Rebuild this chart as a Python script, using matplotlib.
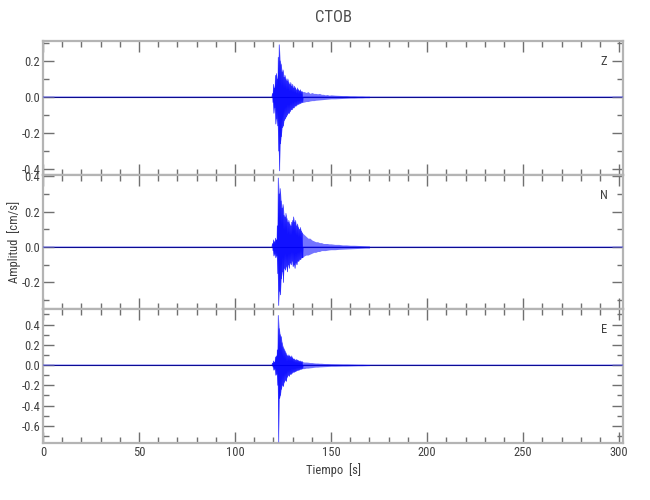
import numpy as np
import matplotlib
matplotlib.use("Agg")
import matplotlib.pyplot as plt
from matplotlib.ticker import MultipleLocator
from matplotlib import font_manager

names = {f.name for f in font_manager.fontManager.ttflist}
narrow = [n for n in ['Liberation Sans Narrow', 'DejaVu Sans Condensed', 'Roboto Condensed'] if n in names]
plt.rcParams['font.family'] = narrow + ['DejaVu Sans']
plt.rcParams['font.stretch'] = 'condensed'
plt.rcParams['axes.unicode_minus'] = False

# envelope sample times (s): 0.5 s steps near the onset, then coarser
t_env = [119.5, 120, 120.5, 121, 121.5, 122, 122.5, 123, 123.5, 124, 124.5, 125,
         125.5, 126, 126.5, 127, 127.5, 128, 128.5, 129, 129.5, 130, 130.5, 131,
         131.5, 132, 132.5, 133, 133.5, 134, 134.5, 135,
         136, 137, 138, 139, 140, 141, 142, 143, 144, 145, 146, 147, 148, 149, 150,
         152, 154, 156, 158, 160, 162, 164, 166, 168, 170]

# peak values (cm/s)
z_up = [0.02, 0.07, 0.05, 0.12, 0.13, 0.10, 0.22, 0.29, 0.20, 0.18, 0.14, 0.15,
        0.11, 0.12, 0.10, 0.09, 0.10, 0.08, 0.07, 0.08, 0.06, 0.07, 0.05, 0.06,
        0.05, 0.04, 0.05, 0.04, 0.035, 0.04, 0.03, 0.03,
        0.03, 0.025, 0.03, 0.02, 0.025, 0.02, 0.02, 0.018, 0.02, 0.015, 0.015, 0.012, 0.014, 0.01, 0.012,
        0.01, 0.009, 0.008, 0.008, 0.006, 0.006, 0.005, 0.005, 0.004, 0.004]
z_lo = [-0.03, -0.09, -0.06, -0.15, -0.12, -0.16, -0.30, -0.41, -0.26, -0.22, -0.17, -0.16,
        -0.13, -0.12, -0.11, -0.10, -0.09, -0.09, -0.08, -0.07, -0.07, -0.06, -0.06, -0.05,
        -0.05, -0.045, -0.04, -0.04, -0.035, -0.035, -0.03, -0.03,
        -0.028, -0.025, -0.025, -0.022, -0.02, -0.02, -0.018, -0.017, -0.016, -0.015, -0.014, -0.013, -0.012, -0.011, -0.01,
        -0.01, -0.009, -0.008, -0.007, -0.006, -0.006, -0.005, -0.005, -0.004, -0.004]

n_up = [0.02, 0.04, 0.03, 0.05, 0.04, 0.12, 0.39, 0.30, 0.33, 0.26, 0.22, 0.24,
        0.18, 0.17, 0.19, 0.16, 0.14, 0.15, 0.13, 0.12, 0.14, 0.15, 0.17, 0.14,
        0.15, 0.12, 0.13, 0.11, 0.10, 0.11, 0.09, 0.08,
        0.07, 0.06, 0.05, 0.05, 0.04, 0.035, 0.03, 0.03, 0.025, 0.025, 0.02, 0.02, 0.02, 0.018, 0.018,
        0.015, 0.015, 0.012, 0.012, 0.01, 0.01, 0.009, 0.008, 0.007, 0.006]
n_lo = [-0.02, -0.05, -0.04, -0.06, -0.05, -0.15, -0.33, -0.25, -0.27, -0.18, -0.14, -0.20,
        -0.12, -0.13, -0.11, -0.14, -0.10, -0.12, -0.09, -0.10, -0.08, -0.11, -0.10, -0.12,
        -0.09, -0.10, -0.08, -0.08, -0.07, -0.07, -0.06, -0.06,
        -0.05, -0.045, -0.045, -0.04, -0.035, -0.03, -0.03, -0.025, -0.025, -0.02, -0.02, -0.02, -0.018, -0.016, -0.015,
        -0.015, -0.013, -0.012, -0.011, -0.01, -0.009, -0.008, -0.007, -0.006, -0.006]

e_up = [0.02, 0.04, 0.03, 0.08, 0.09, 0.15, 0.49, 0.36, 0.30, 0.28, 0.22, 0.18,
        0.16, 0.14, 0.12, 0.10, 0.09, 0.10, 0.09, 0.08, 0.09, 0.07, 0.06, 0.06,
        0.05, 0.055, 0.05, 0.045, 0.04, 0.04, 0.035, 0.035,
        0.03, 0.03, 0.028, 0.025, 0.025, 0.022, 0.02, 0.02, 0.018, 0.018, 0.016, 0.015, 0.015, 0.014, 0.013,
        0.012, 0.011, 0.01, 0.01, 0.009, 0.008, 0.007, 0.007, 0.006, 0.005]
e_lo = [-0.02, -0.05, -0.04, -0.10, -0.09, -0.20, -0.76, -0.33, -0.30, -0.24, -0.20, -0.21,
        -0.17, -0.15, -0.16, -0.12, -0.10, -0.11, -0.09, -0.09, -0.08, -0.07, -0.07, -0.065,
        -0.06, -0.055, -0.05, -0.05, -0.045, -0.04, -0.04, -0.035,
        -0.035, -0.03, -0.03, -0.027, -0.025, -0.022, -0.02, -0.02, -0.018, -0.017, -0.016, -0.015, -0.014, -0.013, -0.012,
        -0.012, -0.011, -0.01, -0.01, -0.009, -0.008, -0.007, -0.007, -0.006, -0.005]

components = ['Z', 'N', 'E']
envelopes = [(z_up, z_lo), (n_up, n_lo), (e_up, e_lo)]
ylims = [(-0.433, 0.311), (-0.35, 0.407), (-0.77, 0.554)]
yticks = [[-0.4, -0.2, 0.0, 0.2], [-0.2, 0.0, 0.2, 0.4], [-0.6, -0.4, -0.2, 0.0, 0.2, 0.4]]
t_start, t_end = 0, 302
n_dense = 32  # samples taken every 0.5 s


def trace(up, lo):
    # quiet baseline, then zigzag between the read positive and negative peaks
    tt = [t_start, t_env[0] - 0.3]
    vv = [0.0, 0.0]
    for i in range(n_dense):
        tt += [t_env[i], t_env[i] + 0.25]
        vv += [up[i], lo[i]]
    tt += [t_env[n_dense - 1] + 0.5, t_end]
    vv += [0.0, 0.0]
    return tt, vv


frame = '#b4b4b4'
txt = '#404040'

fig = plt.figure(figsize=(6.5, 5), dpi=100)
left, width = 43 / 650, 580 / 650
tops = [41, 175, 309]
axes = []
for k in range(3):
    ax = fig.add_axes([left, 1 - (tops[k] + 134) / 500, width, 134 / 500])
    axes.append(ax)
    up, lo = envelopes[k]
    ax.axhline(0, color='#12125a', lw=0.8, zorder=1)
    ax.fill_between(t_env, lo, up, color='blue', alpha=0.55, lw=0, zorder=2)
    tt, vv = trace(up, lo)
    ax.plot(tt, vv, color='blue', lw=0.5, alpha=0.85, zorder=3)
    ax.set_xlim(t_start, t_end)
    ax.set_ylim(*ylims[k])
    ax.set_yticks(yticks[k])
    ax.set_yticklabels(['%.1f' % v for v in yticks[k]])
    ax.yaxis.set_minor_locator(MultipleLocator(0.1))
    ax.xaxis.set_major_locator(MultipleLocator(50))
    ax.xaxis.set_minor_locator(MultipleLocator(10))
    ax.tick_params(which='both', direction='in', top=True, right=True,
                   color='#707070', labelcolor=txt, labelsize=9, width=1, pad=2)
    ax.tick_params(which='major', length=8)
    ax.tick_params(which='minor', length=4)
    for s in ax.spines.values():
        s.set_color(frame)
        s.set_linewidth(1.6)
    if k < 2:
        ax.tick_params(labelbottom=False)
    ax.text(0.967, 0.85, components[k], transform=ax.transAxes,
            ha='center', va='center', fontsize=9, color=txt)

fig.text(14 / 650, 1 - 242 / 500, 'Amplitud  [cm/s]', rotation=90, ha='center',
         va='center', color=txt, fontsize=9)
fig.text(333 / 650, 1 - 470 / 500, 'Tiempo  [s]', ha='center', va='center',
         color=txt, fontsize=9)
axes[2].set_xticks([0, 50, 100, 150, 200, 250, 300])
fig.text(left + width / 2, 1 - 18 / 500, 'CTOB', ha='center', va='center',
         fontsize=12, color='#505050')

fig.savefig('out.png', dpi=100)
